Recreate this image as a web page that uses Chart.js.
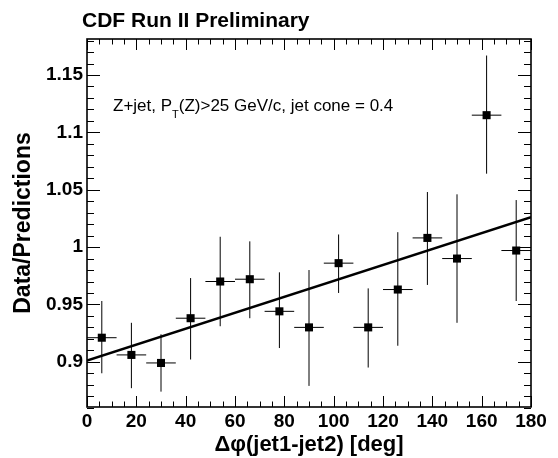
<!DOCTYPE html>
<html>
<head>
<meta charset="utf-8">
<script src="https://cdn.jsdelivr.net/npm/chart.js@4/dist/chart.umd.min.js"></script>
<style>
  html, body { margin: 0; padding: 0; background: #fff; }
  #wrap { width: 558px; height: 458px; }
</style>
</head>
<body>
<div id="wrap"><canvas id="ratioChart" width="558" height="458"></canvas></div>
<script>
// values
const binCenters = [6, 18, 30, 42, 54, 66, 78, 90, 102, 114, 126, 138, 150, 162, 174];
const binHalfWidth = [6, 6, 6, 6, 6, 6, 6, 6, 6, 6, 6, 6, 6, 6, 6];
const ratio = [0.921, 0.906, 0.899, 0.938, 0.970, 0.972, 0.944, 0.930, 0.986, 0.930, 0.963, 1.008, 0.990, 1.115, 0.997];
const ratioHigh = [0.953, 0.934, 0.924, 0.973, 1.009, 1.005, 0.978, 0.980, 1.011, 0.964, 1.013, 1.048, 1.046, 1.167, 1.041];
const ratioLow = [0.890, 0.877, 0.874, 0.902, 0.931, 0.938, 0.912, 0.879, 0.960, 0.895, 0.914, 0.967, 0.934, 1.064, 0.953];
const fitX = [0, 180];
const fitY = [0.901, 1.026];
const xTicks = [0, 20, 40, 60, 80, 100, 120, 140, 160, 180];
const yTicks = [0.9, 0.95, 1, 1.05, 1.1, 1.15];

const FONT = "'Liberation Sans', Arial, Helvetica, sans-serif";

// error bars drawn under the markers
const errorBars = {
  id: "errorBars",
  beforeDatasetsDraw(chart) {
    const { ctx, scales } = chart;
    const xs = scales.x, ys = scales.y;
    ctx.save();
    ctx.strokeStyle = "#000";
    ctx.lineWidth = 1;
    binCenters.forEach((c, i) => {
      const px = xs.getPixelForValue(c);
      const py = ys.getPixelForValue(ratio[i]);
      ctx.beginPath();
      ctx.moveTo(xs.getPixelForValue(c - binHalfWidth[i]), py);
      ctx.lineTo(xs.getPixelForValue(c + binHalfWidth[i]), py);
      ctx.moveTo(px, ys.getPixelForValue(ratioHigh[i]));
      ctx.lineTo(px, ys.getPixelForValue(ratioLow[i]));
      ctx.stroke();
    });
    ctx.restore();
  },
};

// ROOT style frame with inward ticks, plus texts
const frame = {
  id: "frame",
  afterDraw(chart) {
    const { ctx, chartArea: a, scales } = chart;
    const xs = scales.x, ys = scales.y;
    ctx.save();
    ctx.strokeStyle = "#000";
    ctx.lineWidth = 1;
    ctx.beginPath();
    for (let v = 0; v <= 180.001; v += 5) {
      const px = Math.round(xs.getPixelForValue(v)) + 0.5;
      const len = Math.abs(v % 20) < 0.01 ? 11 : 5.5;
      ctx.moveTo(px, a.bottom);
      ctx.lineTo(px, a.bottom - len);
      ctx.moveTo(px, a.top);
      ctx.lineTo(px, a.top + len);
    }
    for (let k = 86; k <= 118; k++) {
      const v = k / 100;
      const py = Math.round(ys.getPixelForValue(v)) + 0.5;
      const len = k % 5 === 0 ? 13 : 7;
      ctx.moveTo(a.left, py);
      ctx.lineTo(a.left + len, py);
      ctx.moveTo(a.right, py);
      ctx.lineTo(a.right - len, py);
    }
    ctx.stroke();
    ctx.lineWidth = 1.6;
    ctx.strokeRect(a.left, a.top, a.right - a.left, a.bottom - a.top);

    ctx.fillStyle = "#000";
    ctx.textBaseline = "alphabetic";
    ctx.textAlign = "left";
    ctx.font = "bold 21px " + FONT;
    ctx.fillText("CDF Run II Preliminary", 82, 27);

    ctx.font = "17px " + FONT;
    let tx = 113;
    const ty = 111;
    ctx.fillText("Z+jet, P", tx, ty);
    tx += ctx.measureText("Z+jet, P").width;
    ctx.font = "11px " + FONT;
    ctx.fillText("T", tx, ty + 7);
    tx += ctx.measureText("T").width;
    ctx.font = "17px " + FONT;
    ctx.fillText("(Z)>25 GeV/c, jet cone = 0.4", tx, ty);

    ctx.font = "bold 22px " + FONT;
    ctx.textAlign = "center";
    ctx.fillText("\u0394\u03c6(jet1-jet2) [deg]", (a.left + a.right) / 2, 451);

    ctx.translate(30, (a.top + a.bottom) / 2);
    ctx.rotate(-Math.PI / 2);
    ctx.font = "bold 23px " + FONT;
    ctx.fillText("Data/Predictions", 0, 0);
    ctx.restore();
  },
};

const tickFont = { family: FONT, size: 19, weight: "bold" };

new Chart(document.getElementById("ratioChart"), {
  type: "scatter",
  data: {
    datasets: [
      {
        label: "fit",
        type: "line",
        data: fitX.map((x, i) => ({ x: x, y: fitY[i] })),
        borderColor: "#000",
        borderWidth: 2.5,
        pointRadius: 0,
        fill: false,
        order: 2,
      },
      {
        label: "Data/Predictions",
        data: binCenters.map((x, i) => ({ x: x, y: ratio[i] })),
        pointStyle: "rect",
        pointRadius: 5.7,
        backgroundColor: "#000",
        borderColor: "#000",
        borderWidth: 0,
        order: 1,
      },
    ],
  },
  options: {
    responsive: false,
    animation: false,
    devicePixelRatio: 1,
    layout: { padding: { left: 0, top: 39, right: 27, bottom: 0 } },
    plugins: {
      legend: { display: false },
      tooltip: { enabled: false },
    },
    scales: {
      x: {
        type: "linear",
        min: 0,
        max: 180,
        grid: { display: false, drawTicks: false },
        border: { display: false },
        afterBuildTicks(scale) {
          scale.ticks = xTicks.map((v) => ({ value: v }));
        },
        afterFit(scale) {
          scale.height = 51;
          scale.paddingLeft = 0;
          scale.paddingRight = 0;
        },
        ticks: {
          font: tickFont,
          color: "#000",
          padding: 3,
          maxRotation: 0,
          autoSkip: false,
        },
      },
      y: {
        type: "linear",
        min: 0.8606,
        max: 1.1814,
        grid: { display: false, drawTicks: false },
        border: { display: false },
        afterBuildTicks(scale) {
          scale.ticks = yTicks.map((v) => ({ value: v }));
        },
        afterFit(scale) {
          scale.width = 87;
          scale.paddingTop = 0;
          scale.paddingBottom = 0;
        },
        ticks: {
          font: tickFont,
          color: "#000",
          padding: 4,
          autoSkip: false,
          callback: (v) => String(Math.round(v * 100) / 100),
        },
      },
    },
  },
  plugins: [errorBars, frame],
});
</script>
</body>
</html>
